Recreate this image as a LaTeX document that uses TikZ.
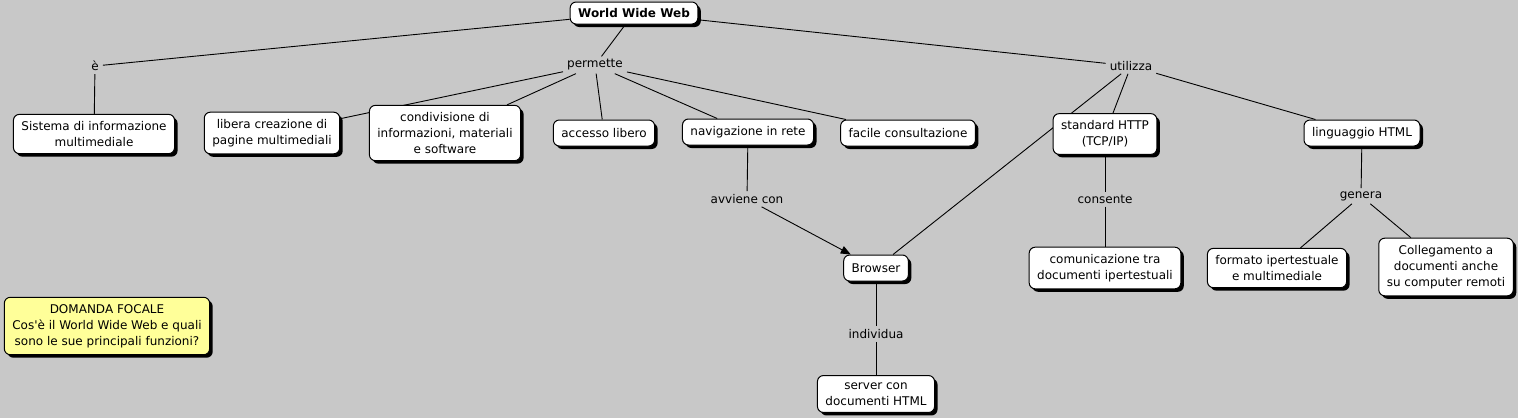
\documentclass[tikz,border=0pt]{standalone}
\usepackage{fontspec}
\setmainfont{DejaVu Sans}[Ligatures=ResetAll]
\usetikzlibrary{shadows,backgrounds,arrows.meta}
\definecolor{mapgray}{RGB}{200,200,200}
\definecolor{focalyellow}{RGB}{255,255,153}
\tikzstyle{concept}=[draw, fill=white, rounded corners=6pt, line width=1pt, align=center, inner xsep=8pt, inner ysep=7pt, minimum height=26pt, drop shadow={shadow xshift=3pt, shadow yshift=-3pt, fill=black, opacity=1}]
\tikzstyle{focal}=[concept, fill=focalyellow]
\tikzstyle{linkphrase}=[inner xsep=4pt, inner ysep=3pt]
\tikzstyle{mapline}=[black, line width=0.9pt]

\begin{document}
\begin{tikzpicture}[x=1pt, y=-1pt, font=\fontsize{12}{16}\selectfont]
  \useasboundingbox (0,0) rectangle (1518,418);
  % concetti
  \node[concept, font=\fontsize{12}{16}\selectfont\bfseries, minimum height=22pt, inner ysep=5pt] (N1) at (634,13) {World Wide Web};
  \node[concept] (N2) at (94,134) {Sistema di informazione\\multimediale};
  \node[concept] (N3) at (272,133) {libera creazione di\\pagine multimediali};
  \node[concept] (N4) at (445,133) {condivisione di\\informazioni, materiali\\e software};
  \node[concept] (N5) at (604,133) {accesso libero};
  \node[concept] (N6) at (748,132) {navigazione in rete};
  \node[concept] (N7) at (908,133) {facile consultazione};
  \node[concept] (N8) at (1105,134) {standard HTTP\\(TCP/IP)};
  \node[concept] (N9) at (1362,133) {linguaggio HTML};
  \node[concept] (N10) at (876,268) {Browser};
  \node[concept] (N11) at (1105,268) {comunicazione tra\\documenti ipertestuali};
  \node[concept] (N12) at (1277,268) {formato ipertestuale\\e multimediale};
  \node[concept] (N13) at (1446,267) {Collegamento a\\documenti anche\\su computer remoti};
  \node[concept] (N14) at (876,394) {server con\\documenti HTML};
  \node[focal] (N15) at (107,326) {DOMANDA FOCALE\\Cos\textquotesingle è il World Wide Web e quali\\sono le sue principali funzioni?};
  % frasi legame
  \node[linkphrase] (L1) at (95,66) {è};
  \node[linkphrase] (L2) at (595,65) {permette};
  \node[linkphrase] (L3) at (1131,66) {utilizza};
  \node[linkphrase] (L4) at (747,199) {avviene con};
  \node[linkphrase] (L5) at (1105,199) {consente};
  \node[linkphrase] (L6) at (1361,196) {genera};
  \node[linkphrase] (L7) at (876,334) {individua};
  \begin{scope}[on background layer]
    \fill[mapgray] (0,0) rectangle (1518,418);
    \draw[mapline] (N1) -- (L1);
    \draw[mapline] (L1) -- (N2);
    \draw[mapline] (N1) -- (L2);
    \draw[mapline] (L2) -- (N3);
    \draw[mapline] (L2) -- (N4);
    \draw[mapline] (L2) -- (N5);
    \draw[mapline] (L2) -- (N6);
    \draw[mapline] (L2) -- (N7);
    \draw[mapline] (N1) -- (L3);
    \draw[mapline] (L3) -- (N8);
    \draw[mapline] (L3) -- (N10);
    \draw[mapline] (L3) -- (N9);
    \draw[mapline] (N6) -- (L4);
    \draw[mapline, -{Triangle[length=10pt, width=8pt]}] (L4) -- (N10);
    \draw[mapline] (N10) -- (L7);
    \draw[mapline] (L7) -- (N14);
    \draw[mapline] (N8) -- (L5);
    \draw[mapline] (L5) -- (N11);
    \draw[mapline] (N9) -- (L6);
    \draw[mapline] (L6) -- (N12);
    \draw[mapline] (L6) -- (N13);
  \end{scope}
\end{tikzpicture}
\end{document}
